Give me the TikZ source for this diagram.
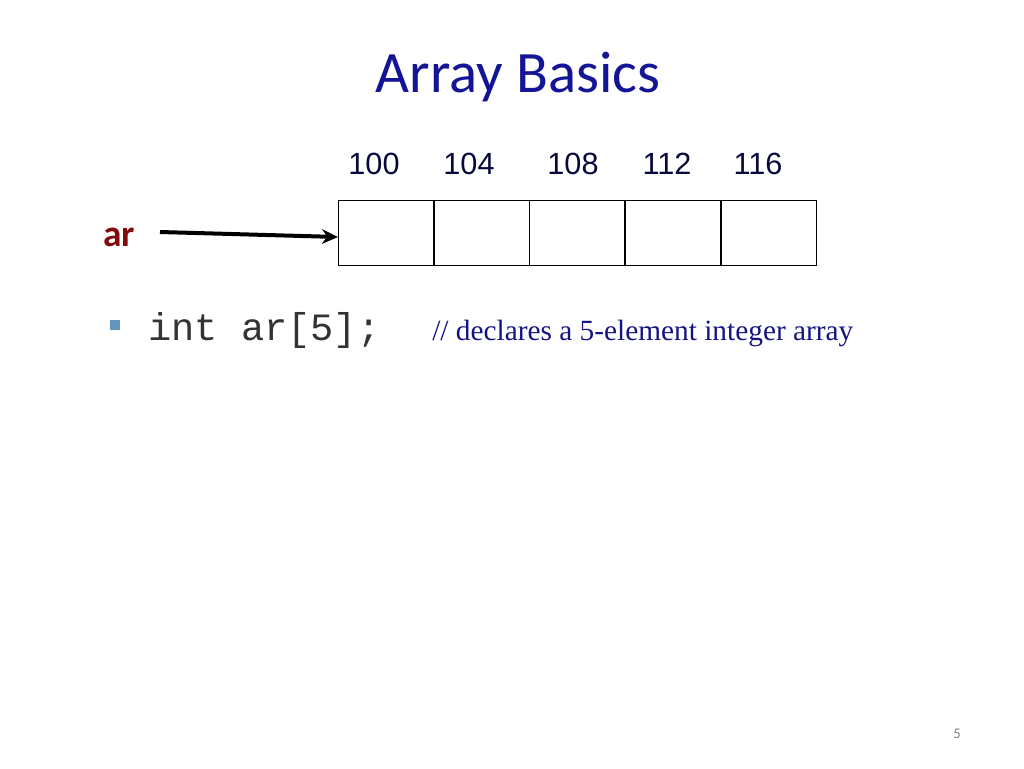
\documentclass[tikz,border=0pt]{standalone}
\usepackage{fontspec}
\usetikzlibrary{arrows.meta}
\setmainfont{Carlito}
\newfontfamily\arial{Liberation Sans}
\newfontfamily\cour{Liberation Mono}
\newfontfamily\tnr{Liberation Serif}
\definecolor{titleblue}{RGB}{20,20,150}
\definecolor{arred}{RGB}{130,10,10}
\definecolor{bulletblue}{RGB}{100,150,190}
\definecolor{cmtblue}{RGB}{20,20,130}
\begin{document}
\begin{tikzpicture}[x=0.75pt,y=-0.75pt,
  cell/.style={draw,thick,minimum width=71.5pt,minimum height=48.75pt,inner sep=0,anchor=north west},
  addr/.style={font=\arial\fontsize{23}{26}\selectfont,anchor=base,text=titleblue!40!black}]
\useasboundingbox (0,0) rectangle (1024,768);
\node[font=\fontsize{44}{50}\selectfont,text=titleblue,anchor=base] (title) at (518,92) {Array Basics};
\foreach \i/\x in {0/338,1/434,2/529,3/625,4/721}{
  \node[cell] (c\i) at (\x,200) {};
}
\node[addr] (a0) at (374,174) {100};
\node[addr] (a1) at (469,174) {104};
\node[addr] (a2) at (573,174) {108};
\node[addr] (a3) at (667,174) {112};
\node[addr] (a4) at (758,174) {116};
\node[font=\bfseries\fontsize{28}{30}\selectfont,text=arred,anchor=base west,inner sep=0] (ar) at (103,246) {ar};
\coordinate (s) at (160,232);
\coordinate (e) at (338,237);
\draw[line width=3pt,-{Stealth[length=12pt,width=11pt]}] (s) -- (e);
\fill[bulletblue] (110,320) rectangle (120,330);
\node[font=\cour\fontsize{29}{32}\selectfont,anchor=base west,inner sep=0,text=black!80] (code) at (148,340) {int ar[5];};
\node[font=\tnr\fontsize{22}{26}\selectfont,anchor=base west,inner sep=0,text=cmtblue] (cmt) at (432,340) {// declares a 5-element integer array};
\node[font=\fontsize{11}{12}\selectfont,text=gray,anchor=base] (pg) at (957,738) {5};
\end{tikzpicture}
\end{document}
